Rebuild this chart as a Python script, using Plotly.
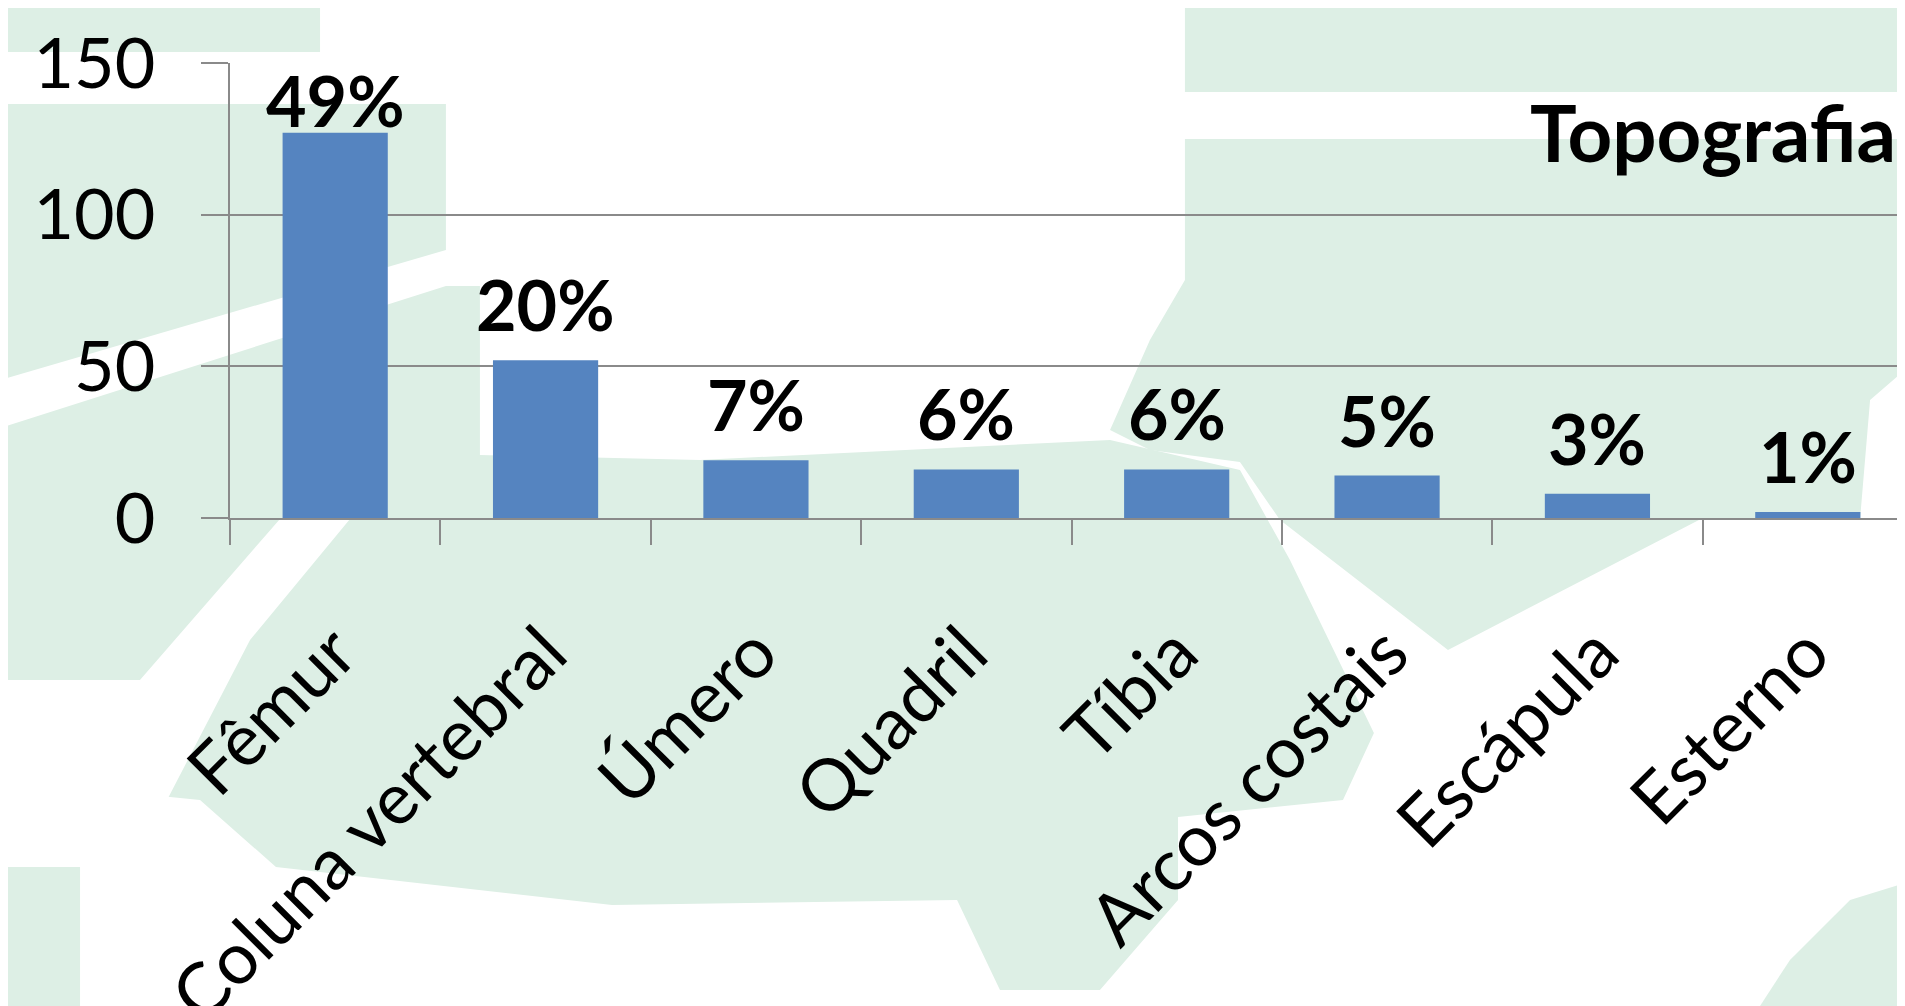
import plotly.graph_objects as go

# ---------------- data ----------------
categories = ["Fêmur", "Coluna vertebral", "Úmero", "Quadril", "Tíbia",
              "Arcos costais", "Escápula", "Esterno"]
counts = [127, 52, 19, 16, 16, 14, 8, 2]
pct_labels = ["49%", "20%", "7%", "6%", "6%", "5%", "3%", "1%"]
y_ticks = [0, 50, 100, 150]
chart_label = "Topografia"

# ---------------- layout geometry (pixels) ----------------
W, H = 1905, 1006
ML, MR, MT, MB = 222, 0, 55, 496
PW, PH = W - ML - MR, H - MT - MB
OFF = 8  # page body margin in the browser
Y_MAX = 150

GREEN = "#DDEFE5"
FONT = "Lato"
GRID = "#8A8A8A"
LABEL_SIZE = 70


def to_paper(pts):
    """convert screen-pixel points to paper coordinates"""
    return [((x - OFF - ML) / PW, (H - MB - (y - OFF)) / PH) for x, y in pts]


def path_of(pts):
    p = to_paper(pts)
    return "M " + " L ".join(f"{x:.4f},{y:.4f}" for x, y in p) + " Z"


# decorative watermark regions of the slide background (screen pixels)
bg_regions = [
    (GREEN, [(0, 0), (320, 0), (320, 52), (0, 52)]),
    (GREEN, [(1185, 0), (1905, 0), (1905, 92), (1185, 92)]),
    (GREEN, [(1185, 139), (1905, 139), (1905, 370), (1870, 400), (1860, 520),
             (1699, 520), (1448, 650), (1280, 520), (1240, 462), (1150, 450),
             (1110, 430), (1150, 340), (1185, 280)]),
    (GREEN, [(0, 104), (446, 104), (446, 250), (0, 380)]),
    (GREEN, [(0, 428), (446, 286), (480, 286), (480, 455), (700, 460),
             (1110, 440), (1240, 470), (1290, 560), (1374, 733), (1343, 800),
             (1178, 817), (1178, 900), (1100, 990), (1000, 990), (957, 900),
             (612, 905), (276, 867), (200, 800), (0, 780)]),
    (GREEN, [(0, 867), (80, 867), (80, 1006), (0, 1006)]),
    (GREEN, [(1905, 883), (1850, 900), (1790, 960), (1760, 1006), (1905, 1006)]),
    ("white", [(280, 519), (350, 519), (250, 640), (167, 800), (80, 867),
               (0, 867), (0, 680), (140, 680)]),
]

shapes = [dict(type="path", path=path_of(r), xref="paper", yref="paper",
               fillcolor=c, line=dict(width=0), layer="below")
          for c, r in bg_regions]

fig = go.Figure()
fig.add_trace(go.Bar(
    x=categories,
    y=counts,
    width=0.5,
    marker=dict(color="#5584C0", line=dict(width=0)),
    hoverinfo="x+y",
))

# percentage labels above each bar; kept inside the chart area at the top
for cat, val, lab in zip(categories, counts, pct_labels):
    bar_top = MT + (Y_MAX - val) / Y_MAX * PH
    shift = min(12, bar_top - MT - 81)
    fig.add_annotation(
        x=cat, y=val, xref="x", yref="y",
        text=f"<b>{lab}</b>",
        yanchor="bottom", xanchor="center",
        yshift=shift,
        showarrow=False,
        font=dict(family=FONT, size=LABEL_SIZE, color="black"),
    )

fig.add_annotation(
    text=f"<b>{chart_label}</b>",
    xref="paper", yref="paper",
    x=0.991, y=0.848,
    xanchor="right", yanchor="middle",
    showarrow=False,
    font=dict(family=FONT, size=78, color="black"),
)

fig.update_layout(
    width=W, height=H,
    margin=dict(l=ML, r=MR, t=MT, b=MB, pad=0),
    paper_bgcolor="white",
    plot_bgcolor="rgba(0,0,0,0)",
    showlegend=False,
    shapes=shapes,
    font=dict(family=FONT, color="black"),
    xaxis=dict(
        range=[-0.5, 7.5],
        tickangle=-45,
        tickfont=dict(family=FONT, size=72, color="black"),
        ticks="outside",
        tickson="boundaries",
        ticklen=25,
        tickcolor=GRID,
        tickwidth=1.5,
        showline=True,
        linecolor=GRID,
        linewidth=1.5,
        showgrid=False,
        automargin=False,
        ticklabelstandoff=62,
    ),
    yaxis=dict(
        range=[0, Y_MAX],
        tickvals=y_ticks,
        tickfont=dict(family=FONT, size=70, color="black"),
        ticks="outside",
        ticklen=27,
        tickcolor=GRID,
        tickwidth=1.5,
        showline=True,
        linecolor=GRID,
        linewidth=1.5,
        showgrid=True,
        gridcolor=GRID,
        gridwidth=1.5,
        zeroline=False,
        automargin=False,
        ticklabelstandoff=32,
    ),
)

fig.write_html("out.html")
